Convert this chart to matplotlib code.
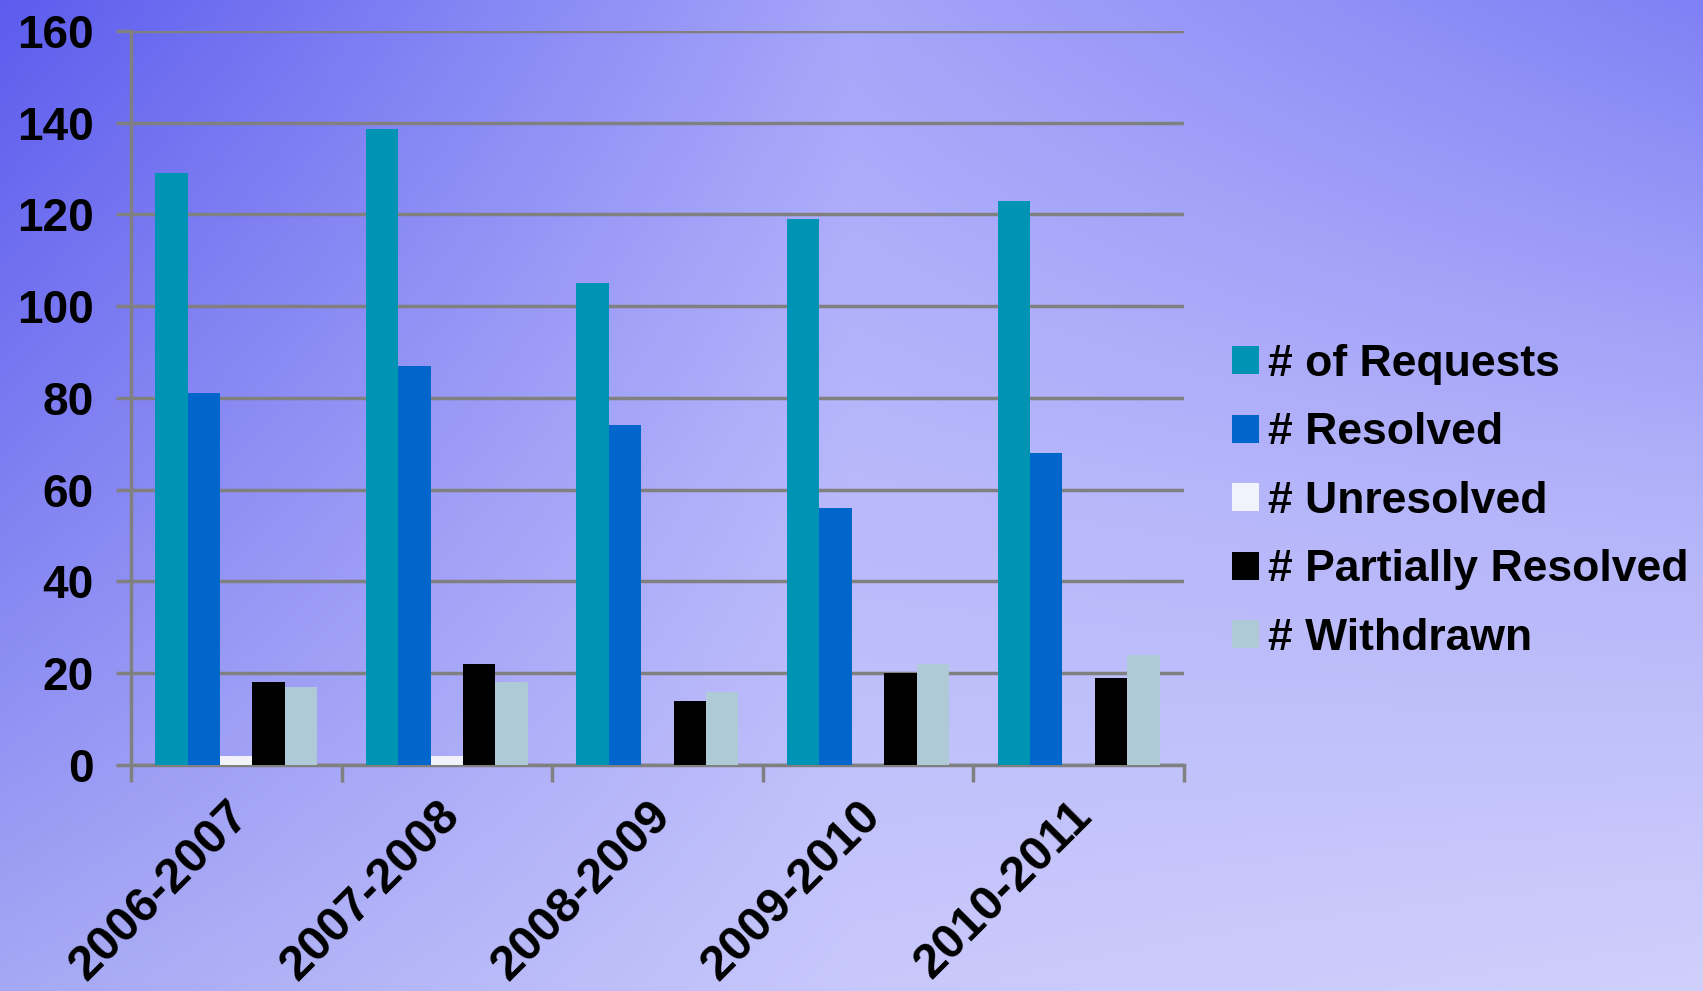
import matplotlib.pyplot as plt
import matplotlib.transforms as mtransforms
import numpy as np

# Chart data
years = ['2006-2007', '2007-2008', '2008-2009', '2009-2010', '2010-2011']
series_names = ['# of Requests', '# Resolved', '# Unresolved',
                '# Partially Resolved', '# Withdrawn']
requests = [129, 138.5, 105, 119, 123]
resolved = [81, 87, 74, 56, 68]
unresolved = [2, 2, 0, 0, 0]
partially = [18, 22, 14, 20, 19]
withdrawn = [17, 18, 16, 22, 24]
y_ticks = [0, 20, 40, 60, 80, 100, 120, 140, 160]

colors = ['#0094B4', '#0066CC', '#F2F2FC', '#000000', '#ADCAD6']

plt.rcParams['font.family'] = ['Liberation Sans', 'DejaVu Sans']
plt.rcParams['font.weight'] = 'bold'

fig = plt.figure(figsize=(17.03, 9.91), dpi=100)

# Background gradient (3x3 control colours, bilinear blend)
ctrl = np.array([
    [[92, 92, 238], [165, 165, 250], [128, 128, 245]],
    [[128, 128, 242], [185, 185, 251], [178, 178, 250]],
    [[165, 168, 244], [200, 200, 252], [208, 208, 252]],
]) / 255.0
h, w = 200, 340
yy = np.linspace(0, 2, h)[:, None]
xx = np.linspace(0, 2, w)[None, :]
i0 = np.clip(np.floor(yy).astype(int), 0, 1)
j0 = np.clip(np.floor(xx).astype(int), 0, 1)
fy = (yy - i0)[..., None]
fx = (xx - j0)[..., None]
c00 = ctrl[i0, j0]
c01 = ctrl[i0, j0 + 1]
c10 = ctrl[i0 + 1, j0]
c11 = ctrl[i0 + 1, j0 + 1]
bg = (c00 * (1 - fx) * (1 - fy) + c01 * fx * (1 - fy)
      + c10 * (1 - fx) * fy + c11 * fx * fy)
bg_ax = fig.add_axes([0, 0, 1, 1])
bg_ax.imshow(bg, aspect='auto', interpolation='bicubic')
bg_ax.axis('off')

# Main chart axes
ax = fig.add_axes([0.0769, 0.228, 0.6183, 0.741])
ax.patch.set_alpha(0)

data = [requests, resolved, unresolved, partially, withdrawn]
n = len(data)
bw = 1.0 / (n + 1.5)
x = np.arange(len(years))
for k, (vals, name, col) in enumerate(zip(data, series_names, colors)):
    offs = (k - (n - 1) / 2) * bw
    ax.bar(x + offs, vals, bw, color=col, label=name, zorder=3)

ax.set_xlim(-0.5, len(years) - 0.5)
ax.set_ylim(0, 160)
ax.set_yticks(y_ticks)
ax.set_yticklabels([str(t) for t in y_ticks], fontsize=33)
ax.yaxis.grid(True, color='#808080', linewidth=2.5, zorder=1)
ax.tick_params(axis='y', length=11, width=2.5, color='#808080', pad=16)

# Category labels at centres, tick marks at boundaries
ax.set_xticks(x)
ax.set_xticklabels(years, fontsize=35, rotation=45, ha='right',
                   rotation_mode='anchor')
ax.tick_params(axis='x', length=0, pad=20)
shift = mtransforms.ScaledTranslation(-0.1, 0, fig.dpi_scale_trans)
for lab in ax.get_xticklabels():
    lab.set_transform(lab.get_transform() + shift)
ax.set_xticks(np.arange(-0.5, len(years)), minor=True)
ax.tick_params(axis='x', which='minor', length=12, width=2.5, color='#808080')

for s in ['top', 'right']:
    ax.spines[s].set_visible(False)
for s in ['left', 'bottom']:
    ax.spines[s].set_color('#808080')
    ax.spines[s].set_linewidth(2.5)

ax.legend(loc='center left', bbox_to_anchor=(1.008, 0.359), frameon=False,
          fontsize=32, handlelength=0.6, handleheight=0.6,
          handletextpad=0.2, labelspacing=0.62)

fig.savefig('out.png', dpi=100)
